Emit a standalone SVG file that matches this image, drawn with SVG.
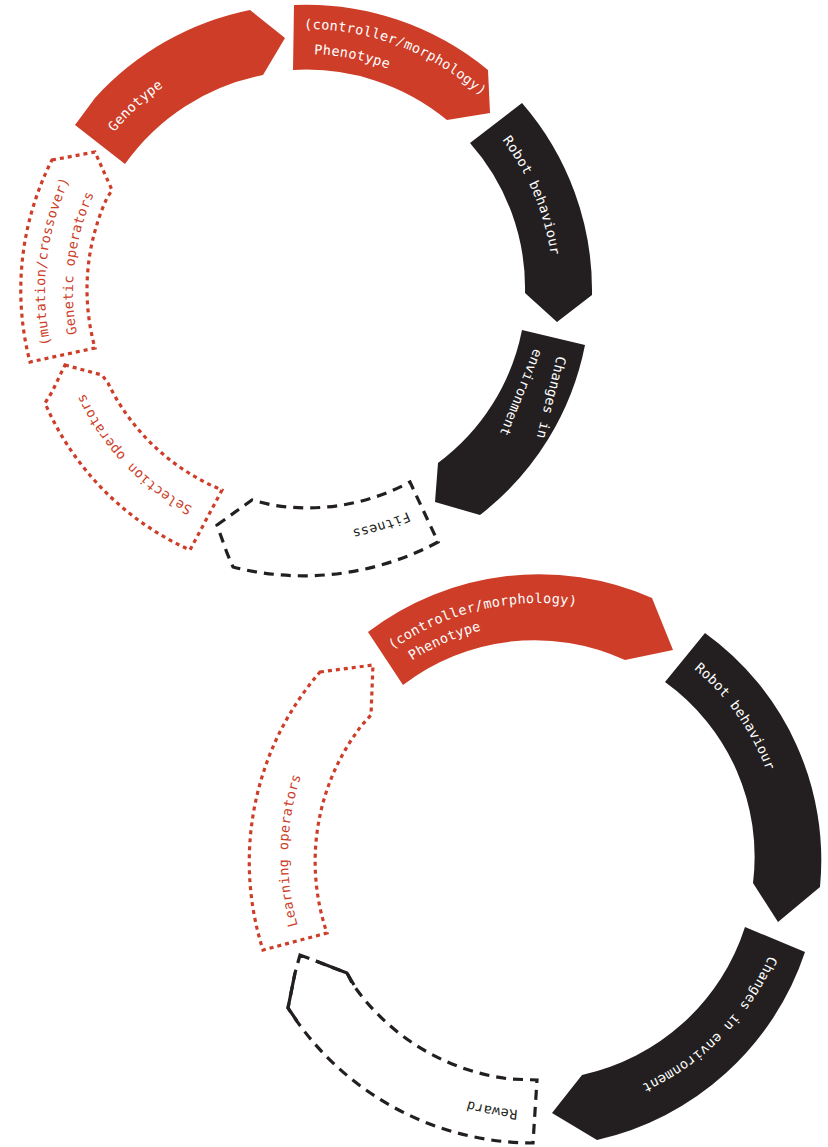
<svg xmlns="http://www.w3.org/2000/svg" width="828" height="1147" viewBox="0 0 828 1147">
<style>
.red{fill:#CD3D28}
.blk{fill:#231F20}
.dot{fill:none;stroke:#CD3D28;stroke-width:3.2;stroke-dasharray:4 4}
.dash{fill:none;stroke:#231F20;stroke-width:3.2;stroke-dasharray:10 7}
.solid{fill:none;stroke:#231F20;stroke-width:3.2}
text{font-family:"DejaVu Sans Mono","Liberation Mono",monospace;font-size:13.5px;letter-spacing:0.3px}
.tw{fill:#ffffff}
.tr{fill:#CD3D28}
.tb{fill:#231F20}
</style>
<defs>
<path id="p-t1" d="M198.6,52.0 A262,262 0 0 1 545.0,183.6"/>
<path id="p-t2" d="M174.0,94.2 A237,237 0 0 1 502.8,159.0"/>
<path id="p-t3" d="M399.1,61.7 A247.5,247.5 0 0 1 535.3,384.1"/>
<path id="p-t4" d="M522.1,402.1 A243,243 0 0 1 194.9,507.1"/>
<path id="p-t5" d="M299.6,534.9 A244,244 0 0 1 62.1,284.6"/>
<path id="p-t6" d="M101.3,452.9 A261,261 0 0 1 144.1,86.3"/>
<path id="p-t7" d="M122.4,434.5 A233,233 0 0 1 162.5,107.4"/>
<path id="p-t8" d="M57.2,280.6 A249,249 0 0 1 316.4,42.2"/>
<path id="p-b1" d="M323.4,723.6 A253,253 0 0 1 671.4,640.4"/>
<path id="p-b2" d="M322.0,771.2 A233,233 0 0 1 623.8,639.0"/>
<path id="p-b3" d="M579.5,616.4 A243,243 0 0 1 778.6,896.5"/>
<path id="p-b4" d="M789.5,854.5 A250.5,250.5 0 0 1 540.5,1106.5"/>
<path id="p-b5" d="M683.4,1066.1 A255,255 0 0 1 328.9,1000.4"/>
<path id="p-b6" d="M357.5,1029.4 A251,251 0 0 1 365.6,674.5"/>
</defs>

<!-- Top cycle -->
<g id="genotype">
<path class="red" d="M75,125 L95,98 A286,286 0 0 1 250,10 L285,38 L263,75 A220,220 0 0 0 125,164 Z"/>
<text class="tw" text-anchor="middle"><textPath href="#p-t8" startOffset="50%">Genotype</textPath></text>
</g>
<g id="phenotype-top">
<path class="red" d="M294,5 A286,286 0 0 1 488,70 L490,113 L447,120 A221,221 0 0 0 293,70 Z"/>
<text class="tw" text-anchor="middle"><textPath href="#p-t1" startOffset="50%">(controller/morphology)</textPath></text>
<text class="tw" text-anchor="middle"><textPath href="#p-t2" startOffset="50%">Phenotype</textPath></text>
</g>
<g id="robot-behaviour-top">
<path class="blk" d="M522,103 A286,286 0 0 1 592,295 L557,322 L525,293 A219,219 0 0 0 470,143 Z"/>
<text class="tw" text-anchor="middle"><textPath href="#p-t3" startOffset="50%">Robot behaviour</textPath></text>
</g>
<g id="changes-environment-top">
<path class="blk" d="M522,330 L585,345 A284,284 0 0 1 480,515 L435,502 L438,463 A218,218 0 0 0 522,330 Z"/>
<text class="tw" text-anchor="middle" transform="translate(546.8,396.5) rotate(104)">Changes in</text>
<text class="tw" text-anchor="middle" transform="translate(517,390.9) rotate(112)">environment</text>
</g>
<g id="fitness">
<path class="dash" d="M217,525 L252,500 L272,505 A217,217 0 0 0 410,482 L438,542 A285,285 0 0 1 233,567 L227,553 Z"/>
<text class="tb" text-anchor="middle"><textPath href="#p-t4" startOffset="50%">Fitness</textPath></text>
</g>
<g id="selection-operators">
<path class="dot" d="M65,365 L102,375 L108,383 A218,218 0 0 0 222,490 L190,550 A284,284 0 0 1 45,403 L52,392 Z"/>
<text class="tr" text-anchor="middle"><textPath href="#p-t5" startOffset="50%">Selection operators</textPath></text>
</g>
<g id="genetic-operators">
<path class="dot" d="M52,160 L95,152 L112,190 L107,198 A219,219 0 0 0 95,348 L30,362 A286,286 0 0 1 52,160 Z"/>
<text class="tr" text-anchor="middle"><textPath href="#p-t6" startOffset="50%">(mutation/crossover)</textPath></text>
<text class="tr" text-anchor="middle"><textPath href="#p-t7" startOffset="50%">Genetic operators</textPath></text>
</g>

<!-- Bottom cycle -->
<g id="phenotype-bottom">
<path class="red" d="M368,632 A282,282 0 0 1 652,598 L673,650 L625,660 A216,216 0 0 0 403,685 Z"/>
<text class="tw" text-anchor="middle"><textPath href="#p-b1" startOffset="50%">(controller/morphology)</textPath></text>
<text class="tw" text-anchor="middle"><textPath href="#p-b2" startOffset="50%">Phenotype</textPath></text>
</g>
<g id="robot-behaviour-bottom">
<path class="blk" d="M705,633 A280,280 0 0 1 820,887 L778,922 L753,883 A215,215 0 0 0 665,682 Z"/>
<text class="tw" text-anchor="middle"><textPath href="#p-b3" startOffset="50%">Robot behaviour</textPath></text>
</g>
<g id="changes-environment-bottom">
<path class="blk" d="M745,927 L805,952 A285,285 0 0 1 597,1140 L552,1113 L582,1075 A220,220 0 0 0 745,927 Z"/>
<text class="tw" text-anchor="middle"><textPath href="#p-b4" startOffset="50%">Changes in environment</textPath></text>
</g>
<g id="reward">
<path class="dash" d="M300,955 L347,973 L352,983 A224,224 0 0 0 510,1079 L537,1080 L533,1143 A290,290 0 0 1 288,1008 L295,973 Z"/>
<path class="solid" d="M316,961 L347,973 L354,985 M295,973 L288,1008 L297,1021"/>
<text class="tb" text-anchor="middle"><textPath href="#p-b5" startOffset="50%">Reward</textPath></text>
</g>
<g id="learning-operators">
<path class="dot" d="M320,672 L373,665 L371,715 L362,725 A222,222 0 0 0 327,933 L263,950 A290,290 0 0 1 320,672 Z"/>
<text class="tr" text-anchor="middle"><textPath href="#p-b6" startOffset="50%">Learning operators</textPath></text>
</g>

<g id="connectors"></g>
</svg>
